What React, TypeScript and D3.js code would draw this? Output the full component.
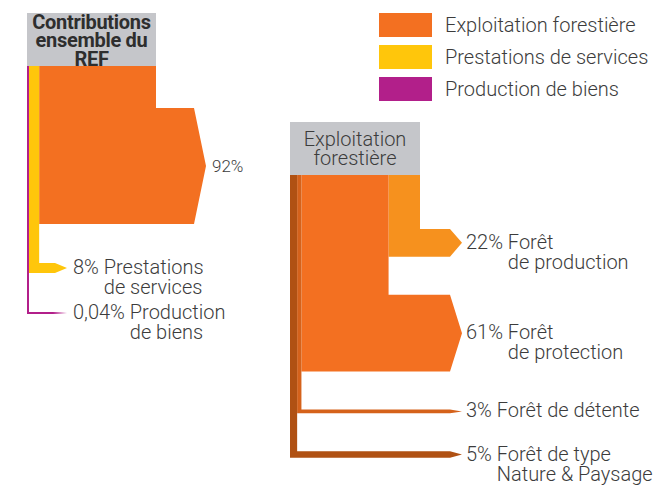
import React, { useEffect, useRef } from "react";
import * as d3 from "d3";

const W = 671;
const H = 496;

// ---------- Data ----------
const legendLabels = ["Exploitation forestière", "Prestations de services", "Production de biens"];
const legendColors = ["#F37021", "#FFC60B", "#B21F8A"];

const leftTitle = ["Contributions", "ensemble du", "REF"];
const leftCategories = ["Exploitation forestière", "Prestations de services", "Production de biens"];
const leftValues = [92, 8, 0.04];
const leftPctLabels = ["92%", "8%", "0,04%"];
const leftNameLine1 = ["", "Prestations", "Production"];
const leftNameLine2 = ["", "de services", "de biens"];
const leftColors = ["#F37021", "#FFC60B", "#B21F8A"];

const rightTitle = ["Exploitation", "forestière"];
const rightCategories = ["Forêt de production", "Forêt de protection", "Forêt de détente", "Forêt de type Nature & Paysage"];
const rightValues = [22, 61, 3, 5];
const rightPctLabels = ["22%", "61%", "3%", "5%"];
const rightNameLine1 = ["Forêt", "Forêt", "Forêt de détente", "Forêt de type"];
const rightNameLine2 = ["de production", "de protection", "", "Nature & Paysage"];
const rightColors = ["#F6911E", "#F37021", "#D5621B", "#B05113"];

// ---------- Styles ----------
const FONT = "Roboto, 'Noto Sans', sans-serif";
const TEXT = "#3c3c3c";
const GRAY = "#C5C6CA";

type FlowCfg = {
  id: string;
  x0: number;
  width: number;
  headerTop: number;
  headerBottom: number;
  title: string[];
  titleBold: boolean;
  titleBaseline: number;
  titleStep: number;
  values: number[];
  colors: string[];
  pct: string[];
  line1: string[];
  line2: string[];
  firstGap: number;
  gap: number;
  bandEnds: number[];
  labelGap: number;
  labelSizes: number[];
  fadeLast: boolean;
};

const thick = d3.scaleLinear().domain([0, 100]).range([0, 126]);

function drawFlow(svg: d3.Selection<SVGSVGElement, unknown, null, undefined>, c: FlowCfg) {
  const g = svg.append("g");
  const n = c.values.length;
  const minW = 2;
  const small = c.values.map((v) => (v / d3.sum(c.values)) * c.width < minW);
  const smallTotal = small.filter(Boolean).length * minW;
  const bigSum = d3.sum(c.values.filter((_, i) => !small[i]));
  const colScale = d3.scaleLinear().domain([0, bigSum]).range([0, c.width - smallTotal]);
  const widths = c.values.map((v, i) => (small[i] ? minW : colScale(v)));
  const colX: number[] = new Array(n);
  let cur = c.x0;
  for (let i = n - 1; i >= 0; i--) {
    colX[i] = cur;
    cur += widths[i];
  }
  const tops: number[] = [];
  const bots: number[] = [];
  let y = c.headerBottom + c.firstGap;
  c.values.forEach((v, i) => {
    const t = Math.max(2, thick(v));
    tops[i] = y;
    bots[i] = y + t;
    y = y + t + c.gap;
  });

  // header
  g.append("rect")
    .attr("x", c.x0)
    .attr("y", c.headerTop)
    .attr("width", c.width)
    .attr("height", c.headerBottom - c.headerTop)
    .attr("fill", GRAY);
  c.title.forEach((t, i) => {
    g.append("text")
      .attr("x", c.x0 + c.width / 2)
      .attr("y", c.titleBaseline + i * c.titleStep)
      .attr("text-anchor", "middle")
      .attr("font-family", FONT)
      .attr("font-size", 20)
      .attr("font-weight", c.titleBold ? 700 : 300)
      .attr("letter-spacing", c.titleBold ? -0.3 : 0)
      .attr("fill", c.titleBold ? "#2e2e2e" : TEXT)
      .text(t);
  });

  const tip = 12;
  const defs = svg.append("defs");
  c.values.forEach((v, i) => {
    const cx = colX[i];
    const cw = widths[i];
    const endX = c.bandEnds[i];
    const mid = (tops[i] + bots[i]) / 2;
    const isFade = c.fadeLast && i === n - 1;
    const fadeLen = 14;
    let pts: [number, number][];
    if (isFade) {
      pts = [
        [cx, c.headerBottom],
        [cx + cw, c.headerBottom],
        [cx + cw, tops[i]],
        [endX, tops[i]],
        [endX, bots[i]],
        [cx, bots[i]],
      ];
      const gid = `fade-${c.id}`;
      const lg = defs
        .append("linearGradient")
        .attr("id", gid)
        .attr("gradientUnits", "userSpaceOnUse")
        .attr("x1", endX)
        .attr("x2", endX + fadeLen)
        .attr("y1", 0)
        .attr("y2", 0);
      lg.append("stop").attr("offset", 0).attr("stop-color", c.colors[i]).attr("stop-opacity", 1);
      lg.append("stop").attr("offset", 1).attr("stop-color", c.colors[i]).attr("stop-opacity", 0);
      g.append("rect")
        .attr("x", endX - 0.5)
        .attr("y", tops[i])
        .attr("width", fadeLen + 0.5)
        .attr("height", bots[i] - tops[i])
        .attr("fill", `url(#${gid})`);
    } else {
      pts = [
        [cx, c.headerBottom],
        [cx + cw, c.headerBottom],
        [cx + cw, tops[i]],
        [endX, tops[i]],
        [endX + tip, mid],
        [endX, bots[i]],
        [cx, bots[i]],
      ];
    }
    g.append("path")
      .attr("d", d3.line()(pts) + "Z")
      .attr("fill", c.colors[i]);

    // labels
    const lx = endX + (isFade ? fadeLen : tip) + c.labelGap;
    const fs = c.labelSizes[i];
    const first = c.line1[i] ? `${c.pct[i]} ${c.line1[i]}` : c.pct[i];
    const t1 = g
      .append("text")
      .attr("x", lx)
      .attr("y", mid + 6)
      .attr("font-family", FONT)
      .attr("font-size", fs)
      .attr("font-weight", 300)
      .attr("fill", TEXT)
      .text(first);
    if (c.line2[i]) {
      let off = 0;
      try {
        off = (t1.node() as SVGTextElement).getSubStringLength(0, c.pct[i].length + 1);
      } catch (e) {
        off = c.pct[i].length * 11;
      }
      g.append("text")
        .attr("x", lx + off)
        .attr("y", mid + 6 + 20)
        .attr("font-family", FONT)
        .attr("font-size", fs)
        .attr("font-weight", 300)
        .attr("fill", TEXT)
        .text(c.line2[i]);
    }
  });
}

export default function App() {
  const ref = useRef<SVGSVGElement>(null);
  useEffect(() => {
    const svg = d3.select(ref.current as SVGSVGElement);
    svg.selectAll("*").remove();
    svg.append("rect").attr("width", W).attr("height", H).attr("fill", "#fff");

    // legend
    const lg = svg.append("g");
    legendLabels.forEach((lab, i) => {
      lg.append("rect")
        .attr("x", 379)
        .attr("y", 13 + i * 32)
        .attr("width", 53)
        .attr("height", 24)
        .attr("fill", legendColors[i]);
      lg.append("text")
        .attr("x", 445)
        .attr("y", 25 + i * 32 + 7)
        .attr("font-family", FONT)
        .attr("font-size", 20)
        .attr("font-weight", 300)
        .attr("fill", TEXT)
        .text(lab);
    });

    drawFlow(svg, {
      id: "left",
      x0: 27,
      width: 129,
      headerTop: 13,
      headerBottom: 66,
      title: leftTitle,
      titleBold: true,
      titleBaseline: 28.5,
      titleStep: 18.7,
      values: leftValues,
      colors: leftColors,
      pct: leftPctLabels,
      line1: leftNameLine1,
      line2: leftNameLine2,
      firstGap: 42,
      gap: 39,
      bandEnds: [194, 55, 53],
      labelGap: 6,
      labelSizes: [17, 20, 20],
      fadeLast: true,
    });

    drawFlow(svg, {
      id: "right",
      x0: 290,
      width: 130,
      headerTop: 122,
      headerBottom: 175,
      title: rightTitle,
      titleBold: false,
      titleBaseline: 146,
      titleStep: 18.5,
      values: rightValues,
      colors: rightColors,
      pct: rightPctLabels,
      line1: rightNameLine1,
      line2: rightNameLine2,
      firstGap: 54,
      gap: 38,
      bandEnds: [450, 450, 450, 450],
      labelGap: 4,
      labelSizes: [20, 20, 20, 20],
      fadeLast: false,
    });
  }, []);

  return (
    <svg
      ref={ref}
      width={W}
      height={H}
      style={{ position: "absolute", left: 0, top: 0, display: "block" }}
      aria-label={[...leftCategories, ...rightCategories].join(", ")}
    />
  );
}
